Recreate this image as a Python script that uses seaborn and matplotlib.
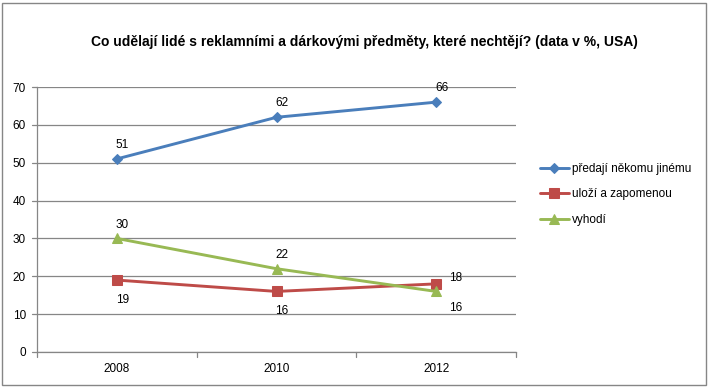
import matplotlib
matplotlib.use("Agg")
import matplotlib.pyplot as plt
import seaborn as sns
import pandas as pd
from matplotlib.patches import Rectangle

years = ["2008", "2010", "2012"]
series_names = ["předají někomu jinému", "uloží a zapomenou", "vyhodí"]
v_predaji = [51, 62, 66]
v_ulozi = [19, 16, 18]
v_vyhodi = [30, 22, 16]
title = "Co udělají lidé s reklamními a dárkovými předměty, které nechtějí? (data v %, USA)"

colors = ["#4A7EBB", "#BE4B48", "#98B954"]
markers = ["D", "s", "^"]
msizes = [5.5, 7.5, 7.5]
# label offsets in points (dx, dy)
offsets = [
    [(4, 10), (4, 10), (4, 10)],
    [(4, -14), (4, -14), (14, 4)],
    [(4, 10), (4, 10), (14, -12)],
]

sns.set_theme(style="white")
plt.rcParams["font.family"] = ["Liberation Sans", "DejaVu Sans"]
plt.rcParams["text.color"] = "black"

fig = plt.figure(figsize=(7.09, 3.87), dpi=100)
ax = fig.add_axes([37 / 709, 1 - 352 / 387, (516 - 37) / 709, (352 - 87) / 387])

df = pd.DataFrame({
    "x": list(range(len(years))) * 3,
    "val": v_predaji + v_ulozi + v_vyhodi,
    "serie": sum([[n] * len(years) for n in series_names], []),
})

for i, name in enumerate(series_names):
    sub = df[df["serie"] == name]
    sns.lineplot(data=sub, x="x", y="val", ax=ax, color=colors[i], marker=markers[i],
                 markersize=msizes[i], markeredgecolor=colors[i], linewidth=2.1,
                 label=name, legend=False)
    for (xv, yv), (dx, dy) in zip(zip(sub["x"], sub["val"]), offsets[i]):
        ax.annotate(str(yv), (xv, yv), xytext=(dx, dy), textcoords="offset points",
                    ha="center", va="center", fontsize=8.5, color="black")

ax.set_xlim(-0.5, 2.5)
ax.set_ylim(0, 70)
ax.set_yticks(range(0, 71, 10))
ax.set_xticks(range(len(years)))
ax.set_xticklabels(years)
ax.set_xlabel("")
ax.set_ylabel("")
ax.tick_params(axis="both", labelsize=8.5, colors="black", length=0, pad=8)
ax.grid(axis="y", color="#868686", linewidth=0.9)
ax.set_axisbelow(True)
for s in ["top", "right"]:
    ax.spines[s].set_visible(False)
for s in ["left", "bottom"]:
    ax.spines[s].set_color("#868686")
    ax.spines[s].set_linewidth(0.9)
for xb in [-0.5, 0.5, 1.5, 2.5]:
    ax.plot([xb, xb], [0, -1.2], color="#868686", linewidth=0.9, clip_on=False)
for yb in range(0, 71, 10):
    ax.plot([-0.5, -0.53], [yb, yb], color="#868686", linewidth=0.9, clip_on=False)

fig.text(364 / 709, 1 - 42 / 387, title, ha="center", va="center", fontsize=10,
         fontweight="bold", color="black")

handles, labels = ax.get_legend_handles_labels()
leg = fig.legend(handles, labels, loc="upper left", bbox_to_anchor=(535 / 709, 1 - 158 / 387),
                 frameon=False, fontsize=8.5, handlelength=2.5, labelspacing=1.15,
                 handletextpad=0.2, borderaxespad=0)
for t in leg.get_texts():
    t.set_color("black")

fig.add_artist(Rectangle((2 / 709, 2 / 387), 704 / 709, 382 / 387, transform=fig.transFigure,
                         fill=False, edgecolor="#868686", linewidth=1))

fig.savefig("out.png", dpi=100)
